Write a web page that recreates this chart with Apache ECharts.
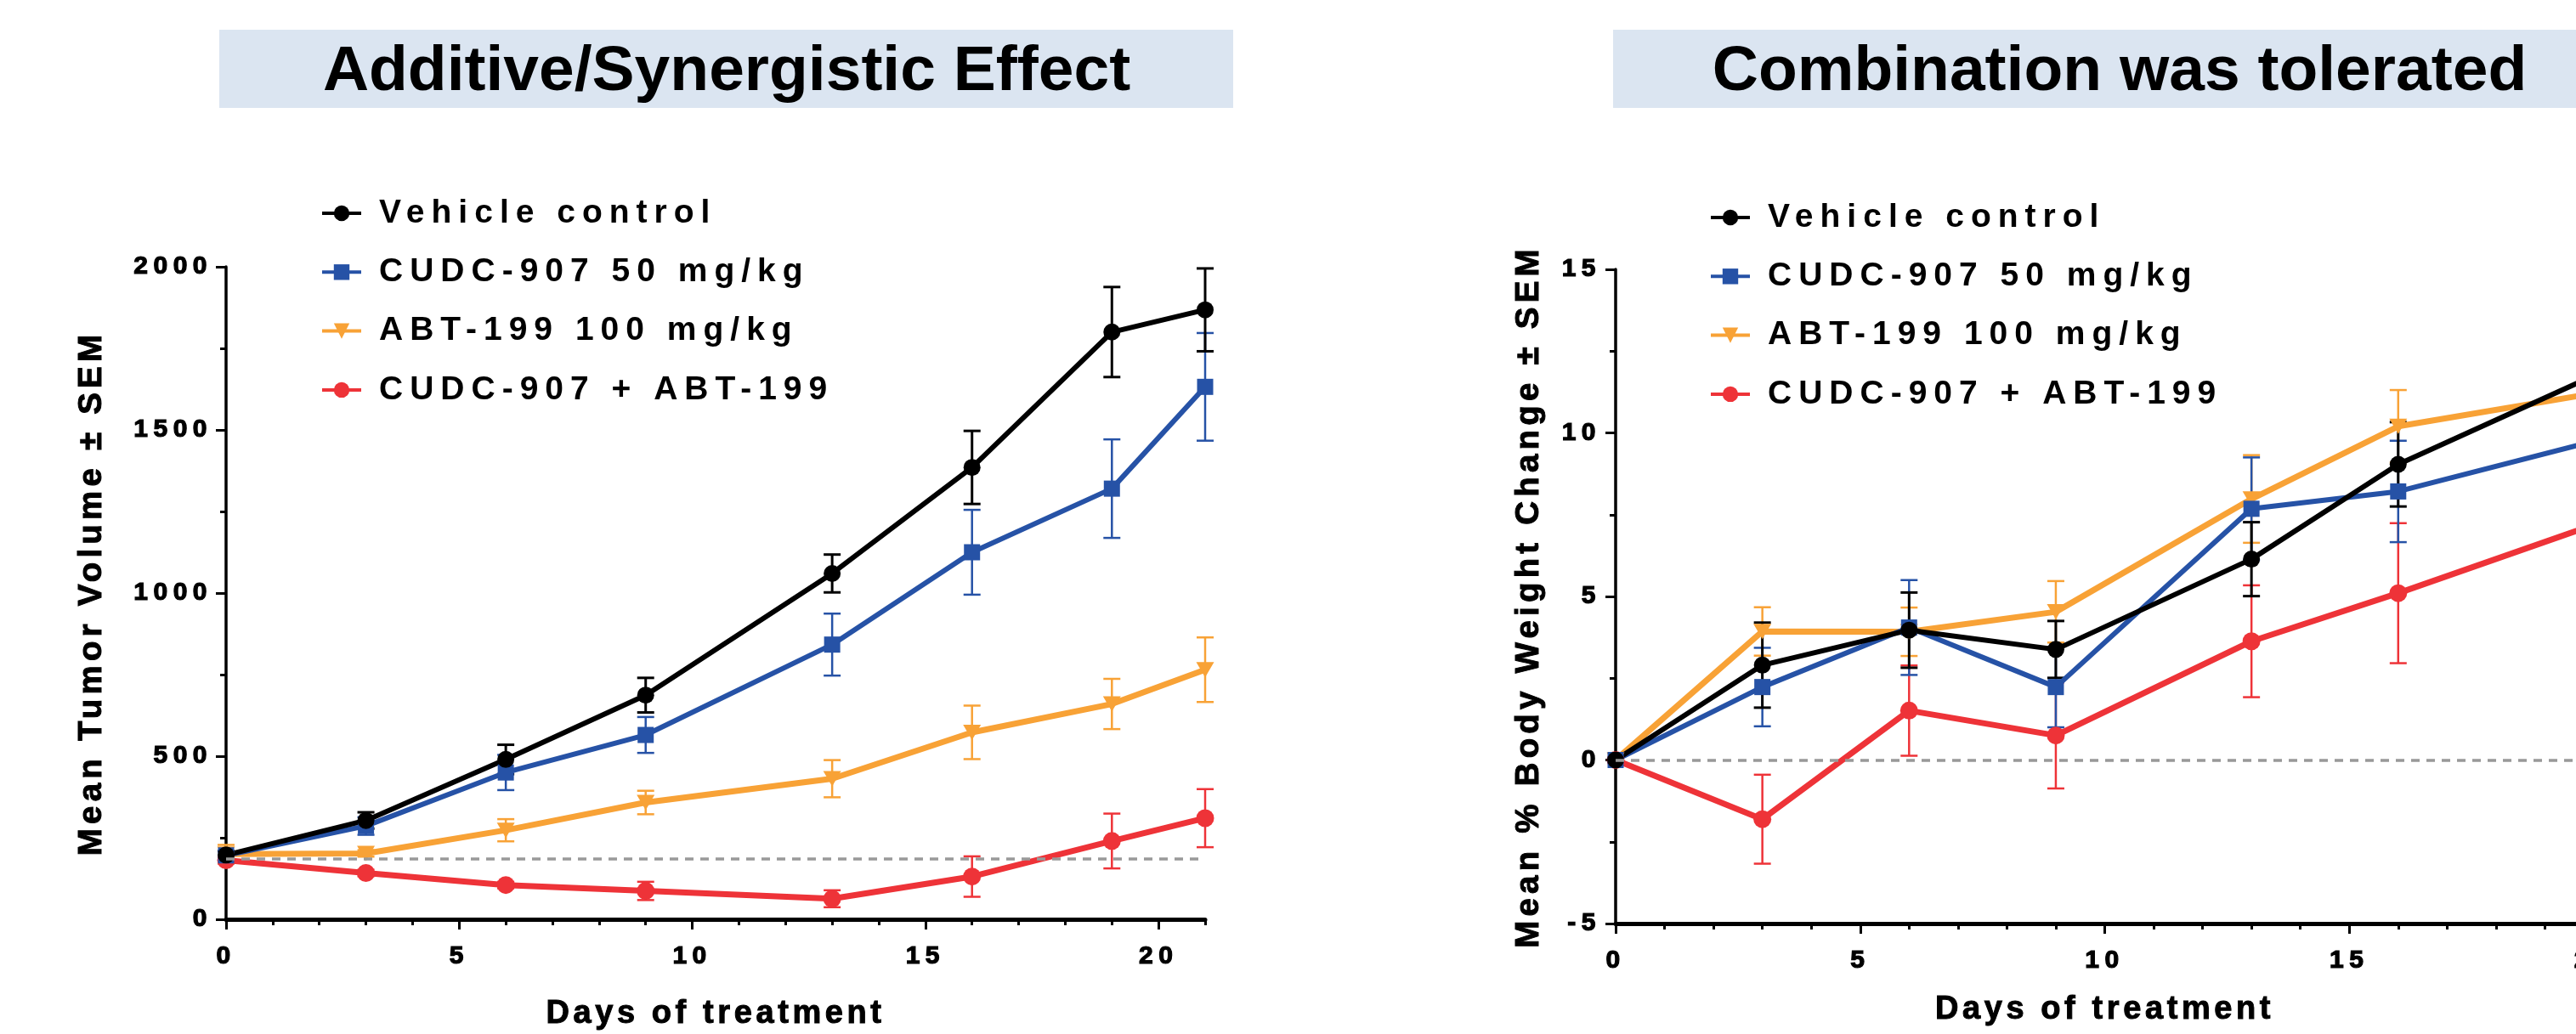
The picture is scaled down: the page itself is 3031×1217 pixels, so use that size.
<!DOCTYPE html>
<html><head><meta charset="utf-8">
<script src="https://cdn.jsdelivr.net/npm/echarts@6/dist/echarts.min.js"></script>
<style>html,body{margin:0;padding:0;background:#fff;}#c{width:3031px;height:1217px;}</style>
</head><body><div id="c"></div>
<script>
// ---------------- data ----------------
const seriesNames = ['Vehicle control', 'CUDC-907 50 mg/kg', 'ABT-199 100 mg/kg', 'CUDC-907 + ABT-199'];

const tumorDays = [0, 3, 6, 9, 13, 16, 19, 21];
const tumorVehicle    = [197, 303, 490, 687, 1060, 1385, 1800, 1868];
const tumorVehicleSem = [12, 25, 45, 53, 58, 112, 138, 127];
const tumorCudc       = [196, 286, 450, 565, 842, 1125, 1320, 1632];
const tumorCudcSem    = [12, 27, 54, 55, 95, 130, 151, 165];
const tumorAbt        = [200, 202, 273, 358, 431, 573, 660, 765];
const tumorAbtSem     = [28, 10, 34, 36, 57, 82, 77, 99];
const tumorCombo      = [181, 142, 105, 87, 63, 131, 240, 310];
const tumorComboSem   = [10, 10, 10, 28, 26, 62, 84, 89];
const tumorBaseline = 185;

const weightDays = [0, 3, 6, 9, 13, 16, 20];
const weightVehicle    = [0, 2.90, 3.97, 3.38, 6.14, 9.04, 11.75];
const weightVehicleSem = [0, 1.30, 1.15, 0.87, 1.13, 1.29, 1.30];
const weightCudc       = [0, 2.23, 4.05, 2.23, 7.68, 8.21, 9.75];
const weightCudcSem    = [0, 1.20, 1.45, 1.23, 1.57, 1.55, 1.50];
const weightAbt        = [0, 3.93, 3.92, 4.53, 7.98, 10.20, 11.21];
const weightAbtSem     = [0, 0.74, 0.74, 0.94, 1.34, 1.11, 1.20];
const weightCombo      = [0, -1.81, 1.51, 0.75, 3.63, 5.10, 7.19];
const weightComboSem   = [0, 1.36, 1.38, 1.62, 1.71, 2.14, 2.00];
const weightBaseline = 0;

const tumorXMajor = [0, 5, 10, 15, 20];
const tumorXMinor = [1, 2, 3, 4, 6, 7, 8, 9, 11, 12, 13, 14, 16, 17, 18, 19, 21];
const weightXMajor = [0, 5, 10, 15, 20];
const weightXMinor = [1, 2, 3, 4, 6, 7, 8, 9, 11, 12, 13, 14, 16, 17, 18, 19];

const titles = ['Additive/Synergistic Effect', 'Combination was tolerated'];
const xName = 'Days of treatment';
const yNames = ['Mean Tumor Volume ± SEM', 'Mean % Body Weight Change ± SEM'];

// ---------------- letter spacing (keyed by font size) ----------------
const SPACING = {'39': '8px', '38': '4.6px', '38.5': '5.2px', '30': '6.5px'};
(function () {
  const proto = CanvasRenderingContext2D.prototype;
  if (!('letterSpacing' in proto)) return;
  ['fillText', 'strokeText'].forEach(function (fn) {
    const orig = proto[fn];
    proto[fn] = function () {
      const f = this.font || '';
      const m = /(\d+(?:\.\d+)?)px/.exec(f);
      const want = (m && SPACING[m[1]]) || '0px';
      if (this.letterSpacing !== want) {
        this.letterSpacing = want;
        this.font = f;
        this.letterSpacing = want;
      }
      return orig.apply(this, arguments);
    };
  });
})();

// ---------------- styles ----------------
const FF = "'Liberation Sans', Arial, sans-serif";
const COLORS = ['#000000', '#2652a6', '#f8a236', '#ee3338'];
const SYMBOLS = ['circle', 'rect', 'triangle', 'circle'];
const SYMBOL_ROT = [0, 0, 180, 0];
const SYMBOL_SIZE = [20, 19, [21, 18], 21];
const LINE_W = [6, 6, 7, 7];
const ERR_W = [3, 2.5, 2.5, 2.5];
const CAP = 10;

const tickFont = {fontFamily: FF, fontSize: 30, fontWeight: 'bold', color: '#000', textBorderColor: '#000', textBorderWidth: 1.2};
const xNameFont = {fontFamily: FF, fontSize: 38, fontWeight: 'bold', color: '#000', textBorderColor: '#000', textBorderWidth: 1};
const yNameFont = {fontFamily: FF, fontSize: 38.5, fontWeight: 'bold', color: '#000', textBorderColor: '#000', textBorderWidth: 1};

const grids = [
  {left: 266, top: 314, width: 1152, height: 768, outerBoundsMode: 'none', containLabel: false},
  {left: 1901, top: 317, width: 1151, height: 770, outerBoundsMode: 'none', containLabel: false}
];

function buildSeries(g, days, means, sems, baseline, xIdx) {
  const out = [];
  [3, 2, 1, 0].forEach(function (i) {
    const color = COLORS[i];
    out.push({
      type: 'custom', xAxisIndex: xIdx, yAxisIndex: g, silent: true, z: 2,
      data: days.map(function (d, k) { return [d, means[i][k], sems[i][k]]; }),
      encode: {x: 0, y: 1},
      renderItem: function (params, api) {
        const x = api.value(0), m = api.value(1), s = api.value(2);
        if (!s) return null;
        const t = api.coord([x, m + s]), b = api.coord([x, m - s]);
        const st = {stroke: color, lineWidth: ERR_W[i], fill: null};
        return {type: 'group', children: [
          {type: 'line', shape: {x1: t[0], y1: t[1], x2: b[0], y2: b[1]}, style: st},
          {type: 'line', shape: {x1: t[0] - CAP, y1: t[1], x2: t[0] + CAP, y2: t[1]}, style: st},
          {type: 'line', shape: {x1: b[0] - CAP, y1: b[1], x2: b[0] + CAP, y2: b[1]}, style: st}
        ]};
      }
    });
    const s = {
      type: 'line', name: seriesNames[i], xAxisIndex: xIdx, yAxisIndex: g, z: 2,
      data: days.map(function (d, k) { return [d, means[i][k]]; }),
      symbol: SYMBOLS[i], symbolSize: SYMBOL_SIZE[i], symbolRotate: SYMBOL_ROT[i],
      showSymbol: true, showAllSymbol: true,
      lineStyle: {color: color, width: LINE_W[i]}, itemStyle: {color: color},
      emphasis: {disabled: true}
    };
    if (i === 3) {
      s.markLine = {
        silent: true, symbol: 'none', label: {show: false},
        lineStyle: {color: '#999999', width: 3.5, type: [10, 8]},
        data: [{yAxis: baseline}]
      };
    }
    out.push(s);
  });
  return out;
}

const plainNum = function (v) { return String(v); };

function xAxes(g, max, major, minor, nameGap) {
  return [
    {
      type: 'value', gridIndex: g, min: 0, max: max, interval: 5, position: 'bottom',
      axisLine: {show: true, onZero: false, lineStyle: {color: '#000', width: 5}},
      axisTick: {show: true, customValues: major, length: 12, lineStyle: {color: '#000', width: 3}},
      axisLabel: {customValues: major, margin: 29, formatter: plainNum, ...tickFont},
      splitLine: {show: false},
      name: xName, nameLocation: 'middle', nameGap: nameGap, nameTextStyle: xNameFont
    },
    {
      type: 'value', gridIndex: g, min: 0, max: max, interval: 1, position: 'top',
      offset: -grids[g].height,
      axisLine: {show: false, onZero: false},
      axisTick: {show: true, inside: true, customValues: minor, length: 7, lineStyle: {color: '#000', width: 3}},
      axisLabel: {show: false}, splitLine: {show: false}
    }
  ];
}

function yAxis(g, min, max, interval, name, nameGap, margin) {
  return {
    type: 'value', gridIndex: g, min: min, max: max, interval: interval, position: 'left',
    axisLine: {show: true, onZero: false, lineStyle: {color: '#000', width: 3.5}},
    axisTick: {show: true, length: 12, lineStyle: {color: '#000', width: 3}},
    minorTick: {show: true, splitNumber: 2, length: 7, lineStyle: {color: '#000', width: 3}},
    axisLabel: {margin: margin, formatter: plainNum, ...tickFont},
    splitLine: {show: false}, minorSplitLine: {show: false},
    name: name, nameLocation: 'middle', nameGap: nameGap, nameRotate: 90, nameTextStyle: yNameFont
  };
}

function legend(left, top) {
  return {
    data: seriesNames, orient: 'vertical', left: left, top: top, padding: 0,
    itemWidth: 46, itemHeight: 23, itemGap: 29.3, selectedMode: false,
    lineStyle: {width: 4},
    textStyle: {fontFamily: FF, fontSize: 39, fontWeight: 'bold', color: '#000', lineHeight: 40, padding: [0, 0, 0, 16]}
  };
}

const tumorMeans = [tumorVehicle, tumorCudc, tumorAbt, tumorCombo];
const tumorSems = [tumorVehicleSem, tumorCudcSem, tumorAbtSem, tumorComboSem];
const weightMeans = [weightVehicle, weightCudc, weightAbt, weightCombo];
const weightSems = [weightVehicleSem, weightCudcSem, weightAbtSem, weightComboSem];

const titleStyle = {fontFamily: FF, fontSize: 75, fontWeight: 'bold', color: '#000', lineHeight: 75};

const option = {
  animation: false,
  backgroundColor: '#ffffff',
  graphic: [
    {type: 'rect', shape: {x: 258, y: 35, width: 1193, height: 92}, style: {fill: '#dbe5f1'}, z: 0, silent: true},
    {type: 'rect', shape: {x: 1898, y: 35, width: 1200, height: 92}, style: {fill: '#dbe5f1'}, z: 0, silent: true}
  ],
  title: [
    {text: titles[0], left: 855, top: 48, textAlign: 'center', padding: 0, textStyle: titleStyle},
    {text: titles[1], left: 2494, top: 48, textAlign: 'center', padding: 0, textStyle: titleStyle}
  ],
  legend: [legend(377, 231), legend(2011, 236)],
  grid: grids,
  xAxis: [].concat(xAxes(0, 21, tumorXMajor, tumorXMinor, 93), xAxes(1, 20, weightXMajor, weightXMinor, 83)),
  yAxis: [
    yAxis(0, 0, 2000, 500, yNames[0], 138, 16),
    yAxis(1, -5, 15, 5, yNames[1], 82, 17)
  ],
  series: [].concat(
    buildSeries(0, tumorDays, tumorMeans, tumorSems, tumorBaseline, 0),
    buildSeries(1, weightDays, weightMeans, weightSems, weightBaseline, 2)
  )
};

const chart = echarts.init(document.getElementById('c'), null, {renderer: 'canvas', width: 3031, height: 1217});
chart.setOption(option);
</script>
</body></html>
